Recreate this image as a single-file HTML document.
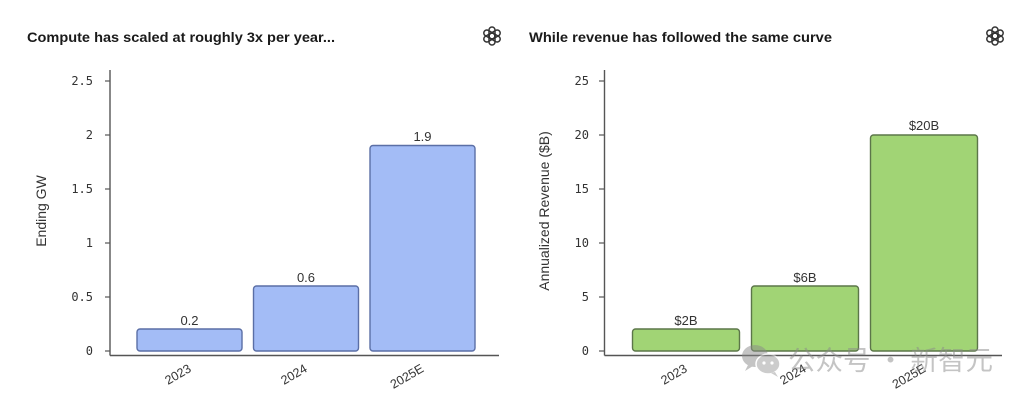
<!DOCTYPE html>
<html><head><meta charset="utf-8"><style>
html,body{margin:0;padding:0;background:#fff;}
svg{display:block;}
</style></head><body>
<svg width="1024" height="403" viewBox="0 0 1024 403" xmlns="http://www.w3.org/2000/svg">
<rect width="1024" height="403" fill="#fff"/>
<defs>
<g id="logo" fill="none" stroke="#333" stroke-width="1.5">
  <rect x="-3" y="-9" width="6" height="12" rx="3" transform="rotate(0)"/>
  <rect x="-3" y="-9" width="6" height="12" rx="3" transform="rotate(60)"/>
  <rect x="-3" y="-9" width="6" height="12" rx="3" transform="rotate(120)"/>
  <rect x="-3" y="-9" width="6" height="12" rx="3" transform="rotate(180)"/>
  <rect x="-3" y="-9" width="6" height="12" rx="3" transform="rotate(240)"/>
  <rect x="-3" y="-9" width="6" height="12" rx="3" transform="rotate(300)"/>
</g>
</defs>

<!-- Titles -->
<text x="27" y="42" font-family="Liberation Sans, sans-serif" font-weight="bold" font-size="14" fill="#1a1a1a" textLength="308" lengthAdjust="spacingAndGlyphs">Compute has scaled at roughly 3x per year...</text>
<text x="529" y="42" font-family="Liberation Sans, sans-serif" font-weight="bold" font-size="14" fill="#1a1a1a" textLength="303" lengthAdjust="spacingAndGlyphs">While revenue has followed the same curve</text>
<use href="#logo" x="492" y="36"/>
<use href="#logo" x="995" y="36"/>

<!-- LEFT CHART -->
<g font-family="DejaVu Sans Mono, Liberation Mono, monospace" font-size="12" fill="#333" text-anchor="end">
  <text x="93" y="85">2.5</text>
  <text x="93" y="139">2</text>
  <text x="93" y="193">1.5</text>
  <text x="93" y="247">1</text>
  <text x="93" y="301">0.5</text>
  <text x="93" y="355">0</text>
</g>
<g stroke="#555" stroke-width="1.2">
  <line x1="105" y1="81" x2="110" y2="81"/>
  <line x1="105" y1="135" x2="110" y2="135"/>
  <line x1="105" y1="189" x2="110" y2="189"/>
  <line x1="105" y1="243" x2="110" y2="243"/>
  <line x1="105" y1="297" x2="110" y2="297"/>
  <line x1="105" y1="351" x2="110" y2="351"/>
</g>
<line x1="110" y1="70" x2="110" y2="355.5" stroke="#555" stroke-width="1.4"/>
<line x1="110" y1="355.5" x2="499" y2="355.5" stroke="#555" stroke-width="1.4"/>
<g fill="#a3bcf6" stroke="#5b6fa6" stroke-width="1.4">
  <rect x="137" y="329" width="105" height="22" rx="3"/>
  <rect x="253.5" y="286" width="105" height="65" rx="3"/>
  <rect x="370" y="145.5" width="105" height="205.5" rx="3"/>
</g>
<g font-family="Liberation Sans, sans-serif" font-size="13" fill="#333" text-anchor="middle">
  <text x="189.5" y="325">0.2</text>
  <text x="306" y="282">0.6</text>
  <text x="422.5" y="141">1.9</text>
</g>
<g font-family="Liberation Sans, sans-serif" font-size="12.5" fill="#333" text-anchor="middle">
  <text transform="translate(180,378) rotate(-30)">2023</text>
  <text transform="translate(296,378) rotate(-30)">2024</text>
  <text transform="translate(409,380) rotate(-30)">2025E</text>
</g>
<text transform="translate(46,211) rotate(-90)" font-family="Liberation Sans, sans-serif" font-size="14" fill="#333" text-anchor="middle">Ending GW</text>

<!-- RIGHT CHART -->
<g font-family="DejaVu Sans Mono, Liberation Mono, monospace" font-size="12" fill="#333" text-anchor="end">
  <text x="589" y="85">25</text>
  <text x="589" y="139">20</text>
  <text x="589" y="193">15</text>
  <text x="589" y="247">10</text>
  <text x="589" y="301">5</text>
  <text x="589" y="355">0</text>
</g>
<g stroke="#555" stroke-width="1.2">
  <line x1="599" y1="81" x2="604" y2="81"/>
  <line x1="599" y1="135" x2="604" y2="135"/>
  <line x1="599" y1="189" x2="604" y2="189"/>
  <line x1="599" y1="243" x2="604" y2="243"/>
  <line x1="599" y1="297" x2="604" y2="297"/>
  <line x1="599" y1="351" x2="604" y2="351"/>
</g>
<line x1="604.5" y1="70" x2="604.5" y2="355.5" stroke="#555" stroke-width="1.4"/>
<line x1="604.5" y1="355.5" x2="1002" y2="355.5" stroke="#555" stroke-width="1.4"/>
<g fill="#a1d475" stroke="#5c7649" stroke-width="1.4">
  <rect x="632.5" y="329" width="107" height="22" rx="3"/>
  <rect x="751.5" y="286" width="107" height="65" rx="3"/>
  <rect x="870.5" y="135" width="107" height="216" rx="3"/>
</g>
<g font-family="Liberation Sans, sans-serif" font-size="13" fill="#333" text-anchor="middle">
  <text x="686" y="325">$2B</text>
  <text x="805" y="282">$6B</text>
  <text x="924" y="130">$20B</text>
</g>
<g font-family="Liberation Sans, sans-serif" font-size="12.5" fill="#333" text-anchor="middle">
  <text transform="translate(676,378) rotate(-30)">2023</text>
  <text transform="translate(795,378) rotate(-30)">2024</text>
  <text transform="translate(911,380) rotate(-30)">2025E</text>
</g>
<text transform="translate(549,211) rotate(-90)" font-family="Liberation Sans, sans-serif" font-size="14" fill="#333" text-anchor="middle">Annualized Revenue ($B)</text>

<!-- Watermark -->
<g opacity="0.5">
  <ellipse cx="755" cy="356" rx="13" ry="11" fill="#8a8a8a"/>
  <path d="M748 365 L745 371 L753 366 Z" fill="#8a8a8a"/>
  <ellipse cx="768" cy="364" rx="12" ry="10" fill="#9a9a9a" stroke="#fff" stroke-width="1.5"/>
  <path d="M775 372 L778 377 L771 373 Z" fill="#9a9a9a"/>
  <circle cx="764" cy="363" r="1.6" fill="#fff"/>
  <circle cx="772" cy="363" r="1.6" fill="#fff"/>
  <text x="788" y="370" font-family="Noto Sans CJK SC, WenQuanYi Zen Hei, sans-serif" font-size="27" fill="#8a8a8a" textLength="205" lengthAdjust="spacingAndGlyphs">公众号 · 新智元</text>
</g>
</svg>
</body></html>
